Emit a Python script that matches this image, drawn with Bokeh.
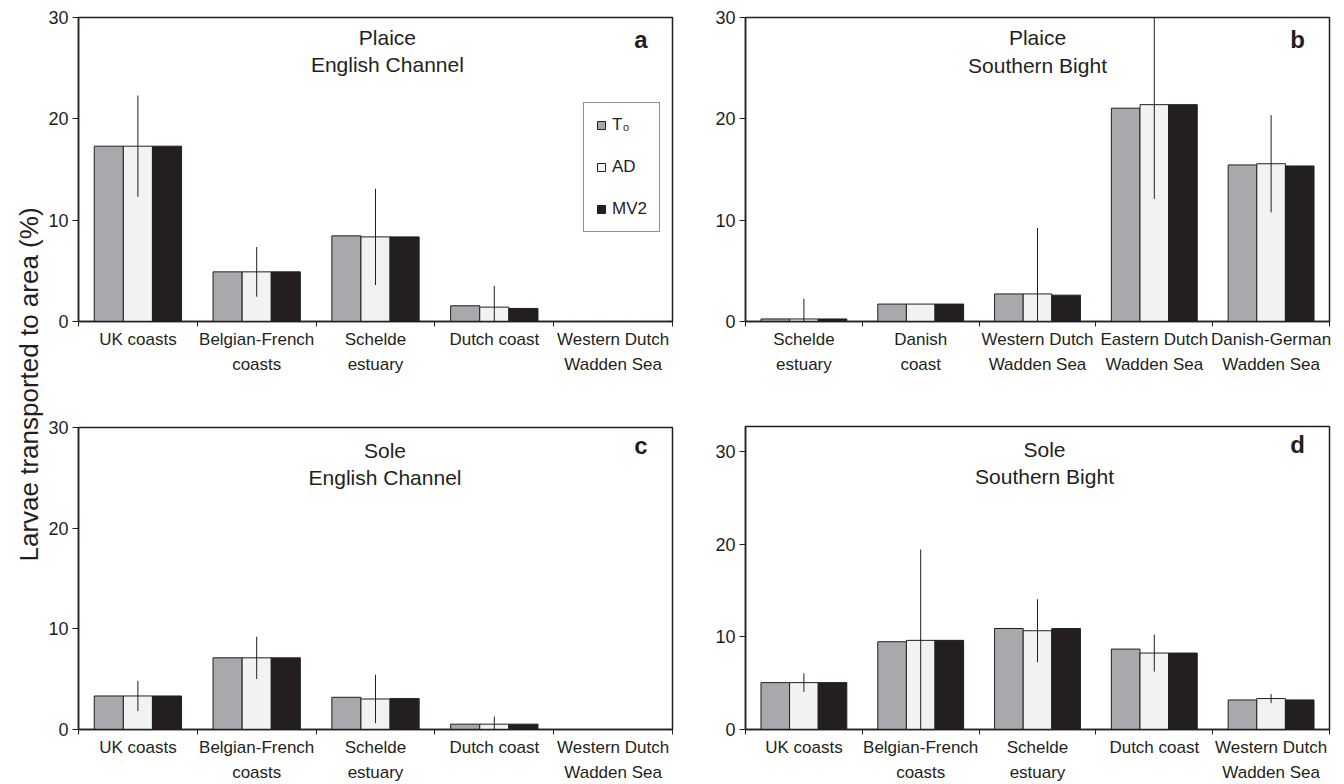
import numpy as np
from bokeh.plotting import figure
from bokeh.models import (Range1d, FixedTicker, Whisker, ColumnDataSource,
                          Legend, LegendItem, Label)
from bokeh.layouts import row, column
from bokeh.embed import file_html
from bokeh.resources import INLINE

# ---------------- data ----------------
cats_a = ["UK coasts", "Belgian-French\ncoasts", "Schelde\nestuary", "Dutch coast", "Western Dutch\nWadden Sea"]
cats_b = ["Schelde\nestuary", "Danish\ncoast", "Western Dutch\nWadden Sea", "Eastern Dutch\nWadden Sea", "Danish-German\nWadden Sea"]
cats_c = ["UK coasts", "Belgian-French\ncoasts", "Schelde\nestuary", "Dutch coast", "Western Dutch\nWadden Sea"]
cats_d = ["UK coasts", "Belgian-French\ncoasts", "Schelde\nestuary", "Dutch coast", "Western Dutch\nWadden Sea"]

series_names = ["T\u2080", "AD", "MV2"]

a_t0 = [17.3, 4.9, 8.45, 1.55, 0.0]
a_ad = [17.3, 4.9, 8.35, 1.42, 0.0]
a_mv2 = [17.3, 4.9, 8.35, 1.29, 0.0]
a_err = [5.0, 2.45, 4.75, 2.1, 0.0]

b_t0 = [0.25, 1.72, 2.72, 21.05, 15.45]
b_ad = [0.25, 1.72, 2.72, 21.4, 15.57]
b_mv2 = [0.25, 1.72, 2.6, 21.4, 15.35]
b_err = [2.0, 0.0, 6.5, 9.3, 4.8]

c_t0 = [3.33, 7.12, 3.2, 0.53, 0.0]
c_ad = [3.33, 7.12, 3.03, 0.53, 0.0]
c_mv2 = [3.33, 7.12, 3.07, 0.53, 0.0]
c_err = [1.5, 2.1, 2.4, 0.75, 0.0]

d_t0 = [5.06, 9.47, 10.9, 8.68, 3.19]
d_ad = [5.06, 9.62, 10.66, 8.25, 3.34]
d_mv2 = [5.06, 9.62, 10.9, 8.25, 3.19]
d_err = [1.0, 9.8, 3.4, 2.0, 0.5]

y_ticks = [0, 10, 20, 30]

# ---------------- style ----------------
INK = "#231f20"
FILLS = ["#a7a9ac", "#f1f2f2", "#231f20"]
FONT = "Liberation Sans"
BAR_W = 0.245
OFFS = [-BAR_W, 0.0, BAR_W]


def panel(cats, t0, ad, mv2, err, ymax, title1, title2, letter, title_x,
          t1_y, t2_y, letter_y, fw, fh, bl, br, bt, bb, line_h, legend=False):
    p = figure(width=bl + fw + br, height=bt + fh + bb, x_range=Range1d(0, 5),
               y_range=Range1d(0, ymax), toolbar_location=None,
               output_backend="svg", min_border_left=bl, min_border_right=br,
               min_border_top=bt, min_border_bottom=bb,
               background_fill_color="white", border_fill_color="white")
    p.grid.visible = False
    p.outline_line_color = INK
    p.outline_line_width = 1.5
    p.outline_line_alpha = 1.0

    centers = np.arange(len(cats)) + 0.5
    rends = []
    for vals, off, col in zip([t0, ad, mv2], OFFS, FILLS):
        src = ColumnDataSource(dict(x=centers + off, top=vals))
        r = p.vbar(x="x", top="top", width=BAR_W, bottom=0, source=src,
                   fill_color=col, line_color=INK, line_width=1)
        rends.append(r)

    esrc = ColumnDataSource(dict(x=centers,
                                 lower=np.array(ad) - np.array(err),
                                 upper=np.array(ad) + np.array(err)))
    wh = Whisker(base="x", lower="lower", upper="upper", source=esrc,
                 dimension="height", line_color=INK, line_width=1,
                 upper_head=None, lower_head=None, level="overlay")
    p.add_layout(wh)

    xa = p.xaxis[0]
    xa.ticker = FixedTicker(ticks=list(centers), minor_ticks=list(range(len(cats) + 1)))
    xa.major_label_overrides = {float(c): lab for c, lab in zip(centers, cats)}
    xa.major_tick_line_color = None
    xa.major_tick_out = 5
    xa.major_tick_in = 0
    xa.minor_tick_line_color = INK
    xa.minor_tick_out = 5
    xa.minor_tick_in = 0
    xa.minor_tick_line_width = 1
    xa.major_label_standoff = 3
    xa.major_label_text_font = FONT
    xa.major_label_text_font_size = "17px"
    xa.major_label_text_color = INK
    xa.major_label_text_line_height = line_h
    xa.axis_line_color = INK
    xa.axis_line_width = 1.5

    ya = p.yaxis[0]
    ya.ticker = FixedTicker(ticks=y_ticks, minor_ticks=[])
    ya.major_tick_out = 6
    ya.major_tick_in = 0
    ya.major_tick_line_color = INK
    ya.major_tick_line_width = 1
    ya.major_label_standoff = 4
    ya.major_label_text_font = FONT
    ya.major_label_text_font_size = "18px"
    ya.major_label_text_color = INK
    ya.axis_line_color = INK
    ya.axis_line_width = 1.5

    p.add_layout(Label(x=title_x, y=t1_y, text=title1, text_align="center",
                       text_font=FONT, text_font_size="21px", text_color=INK))
    p.add_layout(Label(x=title_x, y=t2_y, text=title2, text_align="center",
                       text_font=FONT, text_font_size="21px", text_color=INK))
    p.add_layout(Label(x=4.79, y=letter_y, text=letter, text_align="right",
                       text_font=FONT, text_font_size="24px",
                       text_font_style="bold", text_color=INK))

    if legend:
        lg = Legend(items=[LegendItem(label=n, renderers=[r])
                           for n, r in zip(series_names, rends)],
                    location=(505, 89), margin=0, padding=12, spacing=22,
                    glyph_width=10, glyph_height=10, label_standoff=6,
                    label_height=20, label_text_font=FONT,
                    label_text_font_size="17px", label_text_color=INK,
                    border_line_color=INK, border_line_width=1,
                    background_fill_color="white", background_fill_alpha=1.0)
        p.add_layout(lg)
    return p


pa = panel(cats_a, a_t0, a_ad, a_mv2, a_err, 30, "Plaice", "English Channel", "a",
           2.6, 26.94, 24.18, 26.5, 596, 304, 33, 10, 17, 60, 1.33, legend=True)
pb = panel(cats_b, b_t0, b_ad, b_mv2, b_err, 30, "Plaice", "Southern Bight", "b",
           2.5, 26.85, 24.1, 26.5, 584, 304, 62, 15, 17, 60, 1.33)
pc = panel(cats_c, c_t0, c_ad, c_mv2, c_err, 30, "Sole", "English Channel", "c",
           2.58, 26.62, 23.94, 26.92, 594, 302, 34, 11, 46, 55, 1.33)
pd = panel(cats_d, d_t0, d_ad, d_mv2, d_err, 32.7, "Sole", "Southern Bight", "d",
           2.56, 28.93, 26.03, 29.26, 584, 304, 62, 15, 45, 54, 1.33)

# shared y-axis title
pl = figure(width=44, height=784, x_range=Range1d(0, 44), y_range=Range1d(0, 784),
            toolbar_location=None, output_backend="svg", min_border=0,
            x_axis_location=None, y_axis_location=None, outline_line_color=None,
            background_fill_color="white", border_fill_color="white")
pl.grid.visible = False
pl.add_layout(Label(x=28, y=400, text="Larvae transported to area (%)",
                    angle=np.pi / 2, text_align="center",
                    text_baseline="alphabetic", text_font=FONT,
                    text_font_size="26px", text_color=INK))

layout = row(pl, column(pa, pc), column(pb, pd))

with open("out.html", "w") as f:
    f.write(file_html(layout, INLINE))
